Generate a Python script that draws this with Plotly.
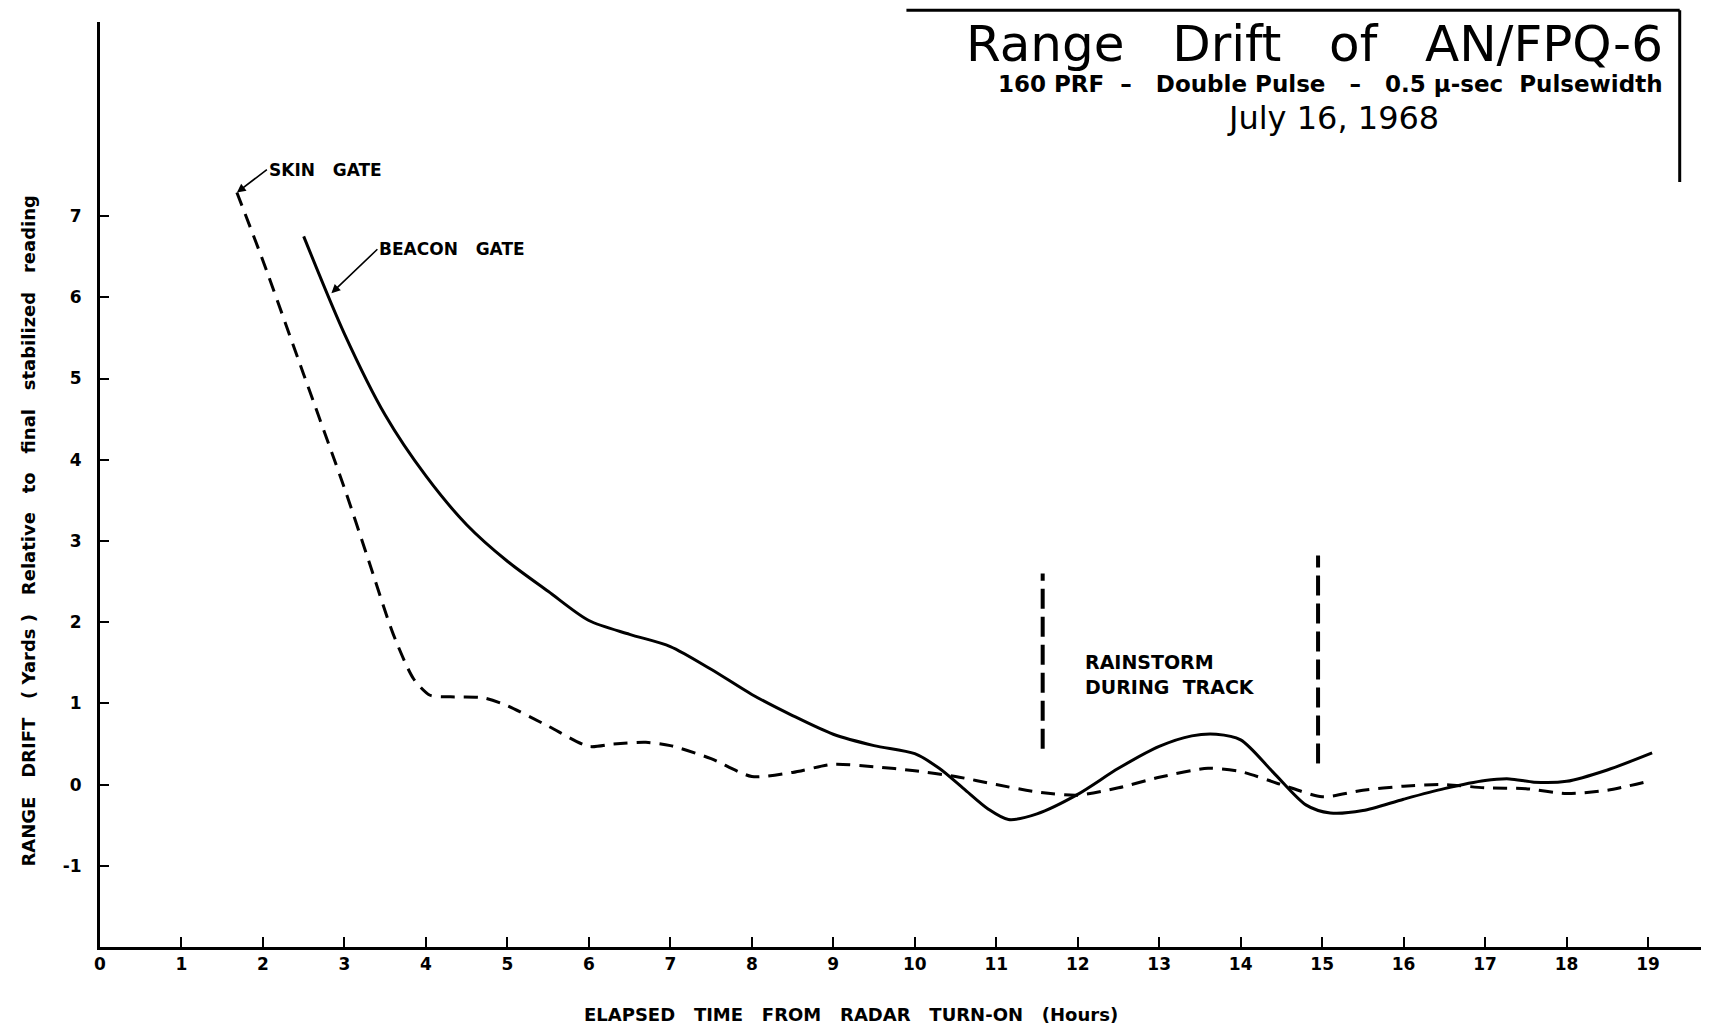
import plotly.graph_objects as go

# ---------------- data ----------------
hour_ticks = list(range(0, 20))
drift_ticks = list(range(-1, 8))

skin_x = [1.68, 2.0, 2.5, 3.0, 3.3, 3.6, 3.85, 4.05, 4.3, 4.7, 5.0, 5.5, 6.0, 6.3, 6.7,
          7.0, 7.5, 8.0, 8.5, 9.0, 9.5, 10.0, 10.5, 11.0, 11.5, 12.0, 12.5, 13.0, 13.6,
          14.0, 14.5, 15.0, 15.5, 16.0, 16.5, 17.0, 17.5, 18.0, 18.5, 19.0]
skin_y = [7.29, 6.45, 5.05, 3.65, 2.75, 1.85, 1.3, 1.1, 1.08, 1.07, 0.97, 0.72, 0.47, 0.5, 0.52,
          0.48, 0.32, 0.1, 0.15, 0.25, 0.22, 0.17, 0.1, 0.0, -0.09, -0.13, -0.04, 0.09, 0.2,
          0.16, 0.0, -0.15, -0.07, -0.02, 0.0, -0.04, -0.05, -0.11, -0.07, 0.04]

beacon_x = [2.5, 3.0, 3.5, 4.0, 4.5, 5.0, 5.5, 6.0, 6.5, 7.0, 7.5, 8.0, 8.5, 9.0, 9.5, 10.0,
            10.3, 10.6, 10.9, 11.15, 11.5, 12.0, 12.5, 13.0, 13.4, 13.7, 14.0, 14.4, 14.8,
            15.1, 15.5, 16.0, 16.5, 17.0, 17.3, 17.6, 18.0, 18.5, 19.05]
beacon_y = [6.75, 5.55, 4.55, 3.8, 3.2, 2.75, 2.38, 2.02, 1.85, 1.7, 1.42, 1.11, 0.85, 0.62, 0.48, 0.38,
            0.2, -0.05, -0.3, -0.43, -0.36, -0.12, 0.2, 0.47, 0.6, 0.62, 0.55, 0.15, -0.25,
            -0.35, -0.32, -0.18, -0.05, 0.05, 0.07, 0.03, 0.04, 0.18, 0.39]

rain_x = [11.57, 14.95]
rain_bottom = [0.44, 0.26]
rain_top = [2.6, 2.82]

beacon_arrow_x = 2.84
beacon_arrow_y = 6.05

LABEL_FONT = "DejaVu Sans, Liberation Sans, Arial, sans-serif"
TITLE_FONT = "DejaVu Sans, sans-serif"
NB = "\u00a0"

fig = go.Figure()

fig.add_trace(go.Scatter(
    x=skin_x, y=skin_y, mode="lines", name="Skin gate",
    line=dict(color="black", width=3, dash="14px,9px", shape="spline", smoothing=0.7),
    hoverinfo="skip"))

fig.add_trace(go.Scatter(
    x=beacon_x, y=beacon_y, mode="lines", name="Beacon gate",
    line=dict(color="black", width=3, shape="spline", smoothing=0.8),
    hoverinfo="skip"))

for xv, b, t in zip(rain_x, rain_bottom, rain_top):
    fig.add_trace(go.Scatter(
        x=[xv, xv], y=[b, t], mode="lines", showlegend=False,
        line=dict(color="black", width=4, dash="20px,8px"), hoverinfo="skip"))

ann = []
ann.append(dict(x=skin_x[0], y=skin_y[0], xref="x", yref="y",
                text="<b>SKIN" + NB * 3 + "GATE</b>", showarrow=True,
                ax=30, ay=-23, xanchor="left", yanchor="middle",
                arrowhead=2, arrowsize=1.1, arrowwidth=1.6, arrowcolor="black",
                standoff=0, font=dict(family=LABEL_FONT, size=17, color="black")))
ann.append(dict(x=beacon_arrow_x, y=beacon_arrow_y, xref="x", yref="y",
                text="<b>BEACON" + NB * 3 + "GATE</b>", showarrow=True,
                ax=46, ay=-44, xanchor="left", yanchor="middle",
                arrowhead=2, arrowsize=1.1, arrowwidth=1.6, arrowcolor="black",
                standoff=0, font=dict(family=LABEL_FONT, size=17, color="black")))
ann.append(dict(x=12.07, y=1.36, xref="x", yref="y",
                text="<b>RAINSTORM<br>DURING" + NB * 2 + "TRACK</b>", showarrow=False,
                xanchor="left", yanchor="middle", align="left",
                font=dict(family=LABEL_FONT, size=19, color="black")))

# chart title block
ann.append(dict(x=0.9773, y=0.9765, xref="paper", yref="paper", showarrow=False,
                text="Range" + NB * 3 + "Drift" + NB * 3 + "of" + NB * 3 + "AN/FPQ-6",
                xanchor="right", yanchor="middle",
                font=dict(family=TITLE_FONT, size=50, color="black")))
ann.append(dict(x=0.9773, y=0.9325, xref="paper", yref="paper", showarrow=False,
                text="<b>160" + NB + "PRF" + NB * 2 + "–" + NB * 3 + "Double" + NB + "Pulse" + NB * 3 + "–"
                     + NB * 3 + "0.5" + NB + "µ-sec" + NB * 2 + "Pulsewidth</b>",
                xanchor="right", yanchor="middle",
                font=dict(family=TITLE_FONT, size=23, color="black")))
ann.append(dict(x=0.770, y=0.896, xref="paper", yref="paper", showarrow=False,
                text="July 16, 1968", xanchor="center", yanchor="middle",
                font=dict(family=TITLE_FONT, size=32, color="black")))

# axis titles
ann.append(dict(x=-0.0448, y=0.4505, xref="paper", yref="paper", showarrow=False,
                text="<b>RANGE" + NB * 3 + "DRIFT" + NB * 3 + "(" + NB + "Yards" + NB + ")" + NB * 3
                     + "Relative" + NB * 3 + "to" + NB * 3 + "final" + NB * 3 + "stabilized" + NB * 3
                     + "reading</b>",
                textangle=-90, xanchor="center", yanchor="middle",
                font=dict(family=LABEL_FONT, size=18, color="black")))
ann.append(dict(x=0.469, y=-0.073, xref="paper", yref="paper", showarrow=False,
                text="<b>ELAPSED" + NB * 3 + "TIME" + NB * 3 + "FROM" + NB * 3 + "RADAR" + NB * 3
                     + "TURN-ON" + NB * 3 + "(Hours)</b>",
                xanchor="center", yanchor="middle",
                font=dict(family=LABEL_FONT, size=18, color="black")))

shapes = [
    dict(type="line", xref="paper", yref="paper", x0=0.5037, x1=0.9867, y0=1.0127, y1=1.0127,
         line=dict(color="black", width=3)),
    dict(type="line", xref="paper", yref="paper", x0=0.9867, x1=0.9867, y0=1.0127, y1=0.827,
         line=dict(color="black", width=3)),
]

fig.update_layout(
    width=1694, height=1016,
    margin=dict(l=92, r=1, t=14, b=77),
    paper_bgcolor="white", plot_bgcolor="white",
    showlegend=False,
    annotations=ann, shapes=shapes,
    xaxis=dict(range=[0, 19.65], tickvals=hour_ticks, ticktext=[str(v) for v in hour_ticks],
               ticks="inside", ticklen=10, tickwidth=2, tickcolor="black",
               showline=True, linecolor="black", linewidth=3,
               showgrid=False, zeroline=False, automargin=False,
               tickfont=dict(family=LABEL_FONT, size=17, color="black", weight="bold")),
    yaxis=dict(range=[-2, 9.39], tickvals=drift_ticks, ticktext=[str(v) for v in drift_ticks],
               ticks="inside", ticklen=9, tickwidth=2, tickcolor="black",
               showline=True, linecolor="black", linewidth=3,
               showgrid=False, zeroline=False, ticklabelstandoff=12, automargin=False,
               tickfont=dict(family=LABEL_FONT, size=17, color="black", weight="bold")),
)

fig.write_html("out.html")
